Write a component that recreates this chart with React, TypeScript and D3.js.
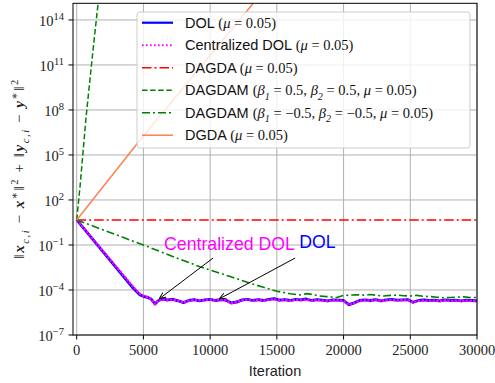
import React, { useRef, useEffect } from "react";
import * as d3 from "d3";

// log10 of the error
const dolIter = [0, 4240, 4745, 5000, 5370, 5600, 5870, 6100,
  6400, 6800, 7200, 7600, 8000, 8400, 8800, 9200, 9600, 10000, 10400, 10800, 11200, 11600, 12000, 12400,
  12800, 13200, 13600, 14000, 14400, 14800, 15200, 15600, 16000, 16400, 16800, 17200, 17600, 18000, 18400,
  18800, 19200, 19600, 20000, 20400, 20800, 21200, 21600, 22000, 22400, 22800, 23200, 23600, 24000, 24400,
  24800, 25200, 25600, 26000, 26400, 26800, 27200, 27600, 28000, 28400, 28800, 29200, 29600, 30000];
const dolLog = [0.67, -3.89, -4.33, -4.42, -4.51, -4.62, -4.93, -4.72,
  -4.6, -4.66, -4.62, -4.72, -4.84, -4.7, -4.64, -4.72, -4.66, -4.62, -4.7, -4.64, -4.68, -4.86, -4.8, -4.66,
  -4.62, -4.7, -4.64, -4.7, -4.62, -4.58, -4.68, -4.64, -4.7, -4.62, -4.66, -4.6, -4.7, -4.64, -4.68,
  -4.72, -4.66, -4.68, -4.7, -4.98, -4.86, -4.7, -4.66, -4.7, -4.64, -4.72, -4.66, -4.62, -4.68, -4.66,
  -4.64, -4.82, -4.7, -4.66, -4.7, -4.68, -4.72, -4.66, -4.7, -4.68, -4.72, -4.68, -4.7, -4.72];
const cdolLog = [0.67, -3.8, -4.28, -4.38, -4.5, -4.6, -4.95, -4.7,
  -4.62, -4.68, -4.64, -4.7, -4.86, -4.72, -4.66, -4.7, -4.68, -4.64, -4.72, -4.66, -4.7, -4.88, -4.82, -4.68,
  -4.64, -4.72, -4.66, -4.72, -4.64, -4.62, -4.7, -4.66, -4.72, -4.64, -4.68, -4.64, -4.72, -4.66, -4.7,
  -4.74, -4.68, -4.7, -4.72, -5.0, -4.88, -4.72, -4.68, -4.72, -4.66, -4.74, -4.68, -4.66, -4.7, -4.68,
  -4.66, -4.84, -4.72, -4.7, -4.72, -4.7, -4.74, -4.68, -4.72, -4.7, -4.74, -4.7, -4.72, -4.74];

const dagdaIter = [0, 30000];
const dagdaLog = [0.67, 0.67];

const momPosIter = [0, 250, 700, 1200, 1700];
const momPosLog = [0.67, 2.9, 7.5, 11.8, 15.9];

const momNegIter = [0, 2500, 5000, 7500, 9240, 10000, 11500, 13000, 14000, 15000, 16000, 16740, 17240, 17700,
  18200, 18740, 19490, 20000, 20500, 21000, 21500, 22000, 22500, 23000, 23500, 24000, 24500, 25000, 25500,
  26000, 26500, 27000, 27500, 28000, 28500, 29000, 29500, 30000];
const momNegLog = [0.67, -0.17, -1.0, -1.87, -2.45, -2.67, -3.1, -3.55, -3.82, -4.08, -4.25, -4.33, -4.24, -4.3,
  -4.4, -4.44, -4.5, -4.36, -4.34, -4.32, -4.34, -4.3, -4.36, -4.4, -4.36, -4.34, -4.38, -4.4, -4.36,
  -4.42, -4.44, -4.48, -4.52, -4.5, -4.48, -4.46, -4.5, -4.5];

const dgdaIter = [0, 4750, 13500];
const dgdaLog = [0.67, 6.0, 15.4];

const xTicks = [0, 5000, 10000, 15000, 20000, 25000, 30000];
const yTickExps = [-7, -4, -1, 2, 5, 8, 11, 14];

const legendNames = ["DOL", "Centralized DOL", "DAGDA", "DAGDAM", "DAGDAM", "DGDA"];
const muSeg = [["(", ""], ["μ", "i"], [" = 0.05)", ""]];
const legendMath = [
  muSeg, muSeg, muSeg,
  [["(", ""], ["β", "i"], ["1", "sub"], [" = 0.5, ", ""], ["β", "i"], ["2", "sub"], [" = 0.5, ", ""], ["μ", "i"], [" = 0.05)", ""]],
  [["(", ""], ["β", "i"], ["1", "sub"], [" = −0.5, ", ""], ["β", "i"], ["2", "sub"], [" = −0.5, ", ""], ["μ", "i"], [" = 0.05)", ""]],
  muSeg,
];

// annotation: label, text anchor point, arrow tail, arrow tip (iteration, log10)
const notes = [
  { label: "Centralized DOL", color: "#ff00ff", at: [6550, -1.33], tail: [10220, -1.87], tip: [6170, -4.6] },
  { label: "DOL", color: "#0000ff", at: [16670, -1.2], tail: [16370, -1.87], tip: [10670, -4.6] },
];

const SANS = "'Liberation Sans', Arial, sans-serif";
const SERIF = "'Liberation Serif', 'DejaVu Serif', serif";

function rich(text, segs, size) {
  let shift = 0;
  segs.forEach(([t, kind]) => {
    const target = kind === "sub" ? 0.3 * size : kind === "sup" ? -0.42 * size : 0;
    const ts = text.append("tspan").attr("dy", target - shift).attr("font-family", SERIF).text(t);
    shift = target;
    if (kind === "sub" || kind === "sup") ts.attr("font-size", size * 0.7);
    if (kind === "i" || kind === "sub") ts.attr("font-style", "italic");
    if (kind === "bi") ts.attr("font-style", "italic").attr("font-weight", "bold");
  });
}

export default function App() {
  const svgRef = useRef(null);

  useEffect(() => {
    const svg = d3.select(svgRef.current);
    svg.selectAll("*").remove();

    const left = 73, right = 477, top = 3.3, bottom = 335;
    const x = d3.scaleLinear().domain([-277, 30000]).range([left, right]);
    const y = d3.scaleLog().domain([1e-7, Math.pow(10, 15.11)]).range([bottom, top]);
    const py = (v) => y(Math.pow(10, v));

    const defs = svg.append("defs");
    defs.append("clipPath").attr("id", "plot-clip")
      .append("rect").attr("x", left).attr("y", top).attr("width", right - left).attr("height", bottom - top);
    const marker = defs.append("marker").attr("id", "arrowhead")
      .attr("viewBox", "0 0 10 10").attr("refX", 10).attr("refY", 5)
      .attr("markerWidth", 7).attr("markerHeight", 7).attr("orient", "auto-start-reverse")
      .attr("markerUnits", "userSpaceOnUse");
    marker.append("path").attr("d", "M0,1 L10,5 L0,9").attr("fill", "none").attr("stroke", "#000").attr("stroke-width", 1.3);

    // grid
    const grid = svg.append("g").attr("stroke", "#b0b0b0").attr("stroke-width", 1);
    xTicks.forEach((t) => grid.append("line").attr("x1", x(t)).attr("x2", x(t)).attr("y1", top).attr("y2", bottom));
    yTickExps.forEach((e) => grid.append("line").attr("x1", left).attr("x2", right).attr("y1", py(e)).attr("y2", py(e)));

    // lines
    const plot = svg.append("g").attr("clip-path", "url(#plot-clip)");
    const line = d3.line().x((d) => x(d[0])).y((d) => py(d[1]));
    const series = [
      { it: dolIter, v: dolLog, color: "#0000ff", w: 2.8, dash: null },
      { it: dolIter, v: cdolLog, color: "#ff00ff", w: 2.4, dash: "2.6,1.1" },
      { it: dagdaIter, v: dagdaLog, color: "#ff0000", w: 1.5, dash: "9.5,3,2,3" },
      { it: momPosIter, v: momPosLog, color: "#008000", w: 1.5, dash: "5.5,2.6" },
      { it: momNegIter, v: momNegLog, color: "#008000", w: 1.6, dash: "8,3,2,3" },
      { it: dgdaIter, v: dgdaLog, color: "#ff7f50", w: 1.5, dash: null },
    ];
    const legendW = [2.2, 2, 1.5, 1.5, 1.5, 1.5];
    const legendDash = [null, "1.6,2.4", "9.5,3,2,3", "5.5,2.6", "8,3,2,3", null];
    series.forEach((s) => {
      plot.append("path").datum(s.it.map((t, i) => [t, s.v[i]]))
        .attr("d", line).attr("fill", "none").attr("stroke", s.color)
        .attr("stroke-width", s.w).attr("stroke-dasharray", s.dash)
        .attr("stroke-linejoin", "round");
    });

    // annotations
    notes.forEach((n) => {
      svg.append("text").attr("x", x(n.at[0])).attr("y", py(n.at[1]))
        .attr("font-family", SANS).attr("font-size", 17.7).attr("fill", n.color).text(n.label);
      svg.append("line").attr("x1", x(n.tail[0])).attr("y1", py(n.tail[1]))
        .attr("x2", x(n.tip[0])).attr("y2", py(n.tip[1]))
        .attr("stroke", "#000").attr("stroke-width", 1).attr("marker-end", "url(#arrowhead)");
    });

    // frame and ticks
    svg.append("rect").attr("x", left).attr("y", top).attr("width", right - left).attr("height", bottom - top)
      .attr("fill", "none").attr("stroke", "#000").attr("stroke-width", 1);
    xTicks.forEach((t) => {
      svg.append("line").attr("x1", x(t)).attr("x2", x(t)).attr("y1", bottom).attr("y2", bottom + 4.5).attr("stroke", "#000");
      svg.append("text").attr("x", x(t)).attr("y", bottom + 20).attr("text-anchor", "middle")
        .attr("font-family", SERIF).attr("font-size", 14.5).attr("fill", "#222").text(t);
    });
    yTickExps.forEach((e) => {
      svg.append("line").attr("x1", left - 4.5).attr("x2", left).attr("y1", py(e)).attr("y2", py(e)).attr("stroke", "#000");
      const t = svg.append("text").attr("x", left - 9).attr("y", py(e) + 5.7).attr("text-anchor", "end")
        .attr("font-family", SERIF).attr("font-size", 14.5).attr("fill", "#222");
      t.append("tspan").text("10");
      t.append("tspan").attr("dy", -5.5).attr("font-size", 10.5).text(String(e).replace("-", "−"));
    });

    svg.append("text").attr("x", (left + right) / 2).attr("y", 376).attr("text-anchor", "middle")
      .attr("font-family", SANS).attr("font-size", 14.5).attr("fill", "#222").text("Iteration");

    const yl = svg.append("text").attr("transform", `translate(24,${(top + bottom) / 2}) rotate(-90)`)
      .attr("text-anchor", "middle").attr("font-size", 15).attr("fill", "#222")
      .attr("textLength", 179).attr("lengthAdjust", "spacing");
    rich(yl, [
      ["‖", ""], ["x", "bi"], ["c,i", "sub"], [" − ", ""], ["x", "bi"], ["∗", "sup"], ["‖", ""], ["2", "sup"],
      [" + ", ""], ["‖", ""], ["y", "bi"], ["c,i", "sub"], [" − ", ""], ["y", "bi"], ["∗", "sup"], ["‖", ""], ["2", "sup"],
    ], 15);

    // legend
    const lg = svg.append("g");
    lg.append("rect").attr("x", 137).attr("y", 12).attr("width", 333).attr("height", 136).attr("rx", 3)
      .attr("fill", "#fff").attr("fill-opacity", 0.8).attr("stroke", "#cccccc").attr("stroke-width", 1);
    legendNames.forEach((name, i) => {
      const ry = 22.7 + i * 22.5;
      const s = series[i];
      lg.append("line").attr("x1", 142).attr("x2", 173).attr("y1", ry).attr("y2", ry)
        .attr("stroke", s.color).attr("stroke-width", legendW[i]).attr("stroke-dasharray", legendDash[i]);
      const t = lg.append("text").attr("x", 185).attr("y", ry + 5).attr("font-size", 14.5).attr("fill", "#111");
      t.append("tspan").attr("font-family", SANS).text(name + " ");
      rich(t, legendMath[i], 14.5);
    });
  }, []);

  return (
    <svg ref={svgRef} width={495} height={383}
      style={{ position: "absolute", left: 0, top: 0, background: "#fff" }} />
  );
}
